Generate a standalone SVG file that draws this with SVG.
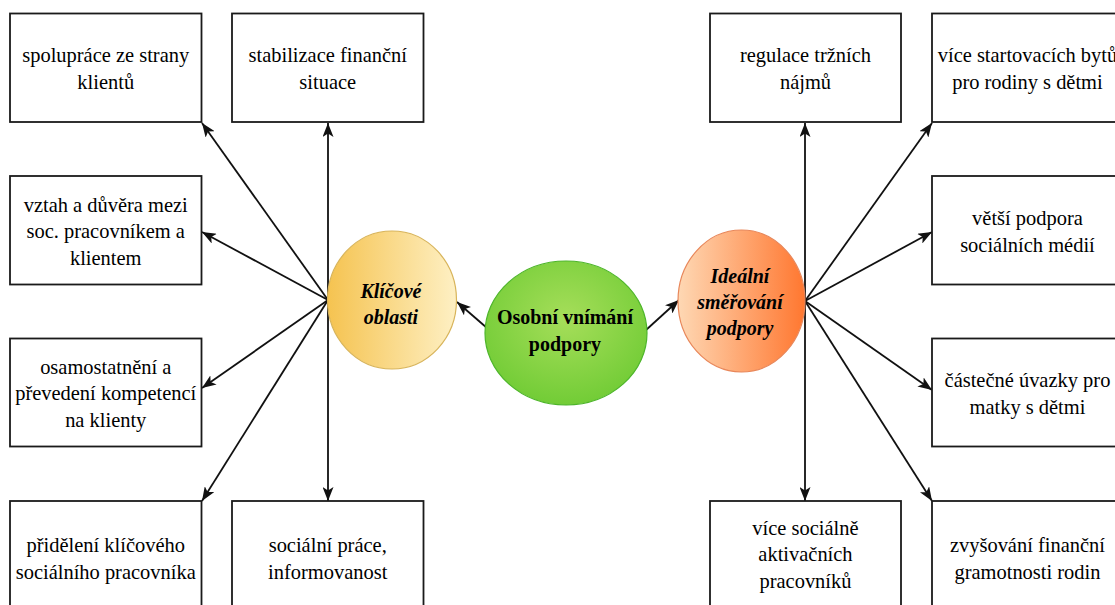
<svg xmlns="http://www.w3.org/2000/svg" width="1115" height="605" viewBox="0 0 1115 605">
<style>
.box{fill:#fff;stroke:#1a1a1a;stroke-width:1.8}
.t{font-family:"Liberation Serif","Times New Roman",serif;font-size:22px;fill:#000;text-anchor:middle}
.e{font-family:"Liberation Serif","Times New Roman",serif;font-size:21.5px;font-weight:bold;fill:#000;text-anchor:middle}
.ei{font-style:italic}
.c{fill:none;stroke:#111;stroke-width:1.8}
</style>
<defs>
<marker id="a" viewBox="0 0 14 11" refX="14" refY="5.5" markerWidth="14" markerHeight="11" markerUnits="userSpaceOnUse" orient="auto-start-reverse">
<path d="M0,0 L14,5.5 L0,11 L3.5,5.5 z" fill="#111"/>
</marker>
<linearGradient id="gy" x1="0" y1="0" x2="1" y2="0">
<stop offset="0" stop-color="#F5C350"/>
<stop offset="1" stop-color="#FEF0C4"/>
</linearGradient>
<linearGradient id="go" x1="0" y1="0" x2="1" y2="0">
<stop offset="0" stop-color="#FED8B4"/>
<stop offset="1" stop-color="#FF7730"/>
</linearGradient>
<radialGradient id="gg" cx="0.5" cy="0.4" r="0.6">
<stop offset="0" stop-color="#A6DE5A"/>
<stop offset="1" stop-color="#72CC36"/>
</radialGradient>
</defs>
<rect width="1115" height="605" fill="#fff"/>
<g id="connectors">
<line class="c" x1="328" y1="300" x2="202" y2="123" marker-end="url(#a)"/>
<line class="c" x1="328" y1="123" x2="328" y2="501" marker-start="url(#a)" marker-end="url(#a)"/>
<line class="c" x1="328" y1="300" x2="202" y2="232" marker-end="url(#a)"/>
<line class="c" x1="328" y1="300" x2="202" y2="388" marker-end="url(#a)"/>
<line class="c" x1="328" y1="300" x2="202" y2="501" marker-end="url(#a)"/>
<line class="c" x1="805" y1="123" x2="805" y2="501" marker-start="url(#a)" marker-end="url(#a)"/>
<line class="c" x1="805" y1="301" x2="932" y2="123" marker-end="url(#a)"/>
<line class="c" x1="805" y1="301" x2="932" y2="232" marker-end="url(#a)"/>
<line class="c" x1="805" y1="301" x2="932" y2="390" marker-end="url(#a)"/>
<line class="c" x1="805" y1="301" x2="932" y2="501" marker-end="url(#a)"/>
<line class="c" x1="487" y1="328" x2="457" y2="302" marker-end="url(#a)"/>
<line class="c" x1="646" y1="330" x2="679" y2="300" marker-end="url(#a)"/>
</g>
<g id="n-klicove">
<ellipse cx="392" cy="300" rx="64.5" ry="69" fill="url(#gy)" stroke="#D8B45A" stroke-width="1.2"/>
<g transform="scale(0.93,1)">
<text class="e ei" x="420.4" y="298">Klíčové</text>
<text class="e ei" x="420.4" y="324">oblasti</text>
</g>
</g>
<g id="n-osobni">
<ellipse cx="566" cy="333" rx="81" ry="72" fill="url(#gg)" stroke="#4DB52A" stroke-width="1.2"/>
<g transform="scale(0.93,1)">
<text class="e" x="607.5" y="324">Osobní vnímání</text>
<text class="e" x="607.5" y="351">podpory</text>
</g>
</g>
<g id="n-idealni">
<ellipse cx="741.5" cy="301" rx="63.5" ry="71" fill="url(#go)" stroke="#E8875A" stroke-width="1.2"/>
<g transform="scale(0.93,1)">
<text class="e ei" x="795.7" y="283">Ideální</text>
<text class="e ei" x="795.7" y="309">směřování</text>
<text class="e ei" x="795.7" y="335">podpory</text>
</g>
</g>
<g id="n1">
<rect class="box" x="10" y="13.5" width="191.5" height="108.5"/>
<g transform="scale(0.93,1)">
<text class="t" x="113.7" y="62.5">spolupráce ze strany</text>
<text class="t" x="113.7" y="89.5">klientů</text>
</g>
</g>
<g id="n2">
<rect class="box" x="232" y="13.5" width="191.5" height="108.5"/>
<g transform="scale(0.93,1)">
<text class="t" x="352.4" y="62.5">stabilizace finanční</text>
<text class="t" x="352.4" y="89.5">situace</text>
</g>
</g>
<g id="n3">
<rect class="box" x="10" y="176" width="191.5" height="108.5"/>
<g transform="scale(0.93,1)">
<text class="t" x="113.7" y="212">vztah a důvěra mezi</text>
<text class="t" x="113.7" y="238.5">soc. pracovníkem a</text>
<text class="t" x="113.7" y="265">klientem</text>
</g>
</g>
<g id="n4">
<rect class="box" x="10" y="338.5" width="191.5" height="108"/>
<g transform="scale(0.93,1)">
<text class="t" x="113.7" y="374">osamostatnění a</text>
<text class="t" x="113.7" y="400.5">převedení kompetencí</text>
<text class="t" x="113.7" y="427">na klienty</text>
</g>
</g>
<g id="n5">
<rect class="box" x="10" y="501" width="191.5" height="108.5"/>
<g transform="scale(0.93,1)">
<text class="t" x="113.7" y="552">přidělení klíčového</text>
<text class="t" x="113.7" y="579">sociálního pracovníka</text>
</g>
</g>
<g id="n6">
<rect class="box" x="232" y="501" width="191.5" height="108.5"/>
<g transform="scale(0.93,1)">
<text class="t" x="352.4" y="552">sociální práce,</text>
<text class="t" x="352.4" y="579">informovanost</text>
</g>
</g>
<g id="n7">
<rect class="box" x="710" y="13.5" width="191" height="108.5"/>
<g transform="scale(0.93,1)">
<text class="t" x="866.1" y="62.5">regulace tržních</text>
<text class="t" x="866.1" y="89.5">nájmů</text>
</g>
</g>
<g id="n8">
<rect class="box" x="932" y="13.5" width="191" height="108.5"/>
<g transform="scale(0.93,1)">
<text class="t" x="1104.8" y="62.5">více startovacích bytů</text>
<text class="t" x="1104.8" y="89.5">pro rodiny s dětmi</text>
</g>
</g>
<g id="n9">
<rect class="box" x="932" y="176" width="191" height="108.5"/>
<g transform="scale(0.93,1)">
<text class="t" x="1104.8" y="225">větší podpora</text>
<text class="t" x="1104.8" y="252">sociálních médií</text>
</g>
</g>
<g id="n10">
<rect class="box" x="932" y="338.5" width="191" height="108"/>
<g transform="scale(0.93,1)">
<text class="t" x="1104.8" y="387">částečné úvazky pro</text>
<text class="t" x="1104.8" y="414">matky s dětmi</text>
</g>
</g>
<g id="n11">
<rect class="box" x="710" y="501" width="191" height="108.5"/>
<g transform="scale(0.93,1)">
<text class="t" x="866.1" y="535">více sociálně</text>
<text class="t" x="866.1" y="561.5">aktivačních</text>
<text class="t" x="866.1" y="588">pracovníků</text>
</g>
</g>
<g id="n12">
<rect class="box" x="932" y="501" width="191" height="108.5"/>
<g transform="scale(0.93,1)">
<text class="t" x="1104.8" y="552">zvyšování finanční</text>
<text class="t" x="1104.8" y="579">gramotnosti rodin</text>
</g>
</g>
</svg>
